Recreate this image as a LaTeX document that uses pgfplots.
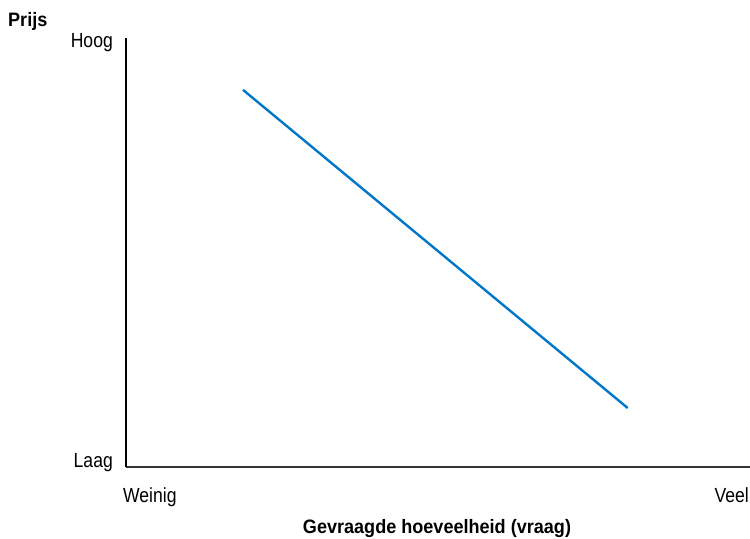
\documentclass[border=0pt]{standalone}
\usepackage{pgfplots}
\pgfplotsset{compat=1.18}
\usepackage{fontspec}
\setmainfont{Liberation Sans}[FakeStretch=0.86]
\newfontfamily\titlefont{Liberation Sans}[FakeStretch=0.93]
\definecolor{lineblue}{HTML}{0077C8}
\definecolor{axgray}{HTML}{333333}
\begin{document}
\begin{tikzpicture}[x=1bp,y=1bp]
\useasboundingbox (0,0) rectangle (750,539);
\begin{axis}[
  at={(126bp,72bp)}, anchor=south west,
  scale only axis, width=624bp, height=429bp,
  xmin=0, xmax=100, ymin=0, ymax=100,
  axis x line=bottom, axis y line=left,
  axis line style={-},
  x axis line style={axgray, line width=2.2bp},
  y axis line style={black, line width=1.3bp},
  xtick=\empty, ytick=\empty,
  clip=false,
]
\addplot[lineblue, line width=2.4bp] coordinates {(18.75,87.9) (80.4,13.75)};
\end{axis}
\node[anchor=base west, inner sep=0pt, font=\titlefont\bfseries\fontsize{19.5}{21}\selectfont] at (8,512) {Prijs};
\node[anchor=base east, inner sep=0pt, font=\fontsize{20.5}{22}\selectfont] at (113,491) {Hoog};
\node[anchor=base east, inner sep=0pt, font=\fontsize{20.5}{22}\selectfont] at (113,71) {Laag};
\node[anchor=base west, inner sep=0pt, font=\fontsize{20.5}{22}\selectfont] at (123,36) {Weinig};
\node[anchor=base east, inner sep=0pt, font=\fontsize{20.5}{22}\selectfont] at (749,36) {Veel};
\node[anchor=base, inner sep=0pt, font=\titlefont\bfseries\fontsize{19.5}{21}\selectfont] at (437,5.5) {Gevraagde hoeveelheid (vraag)};
\end{tikzpicture}
\end{document}
